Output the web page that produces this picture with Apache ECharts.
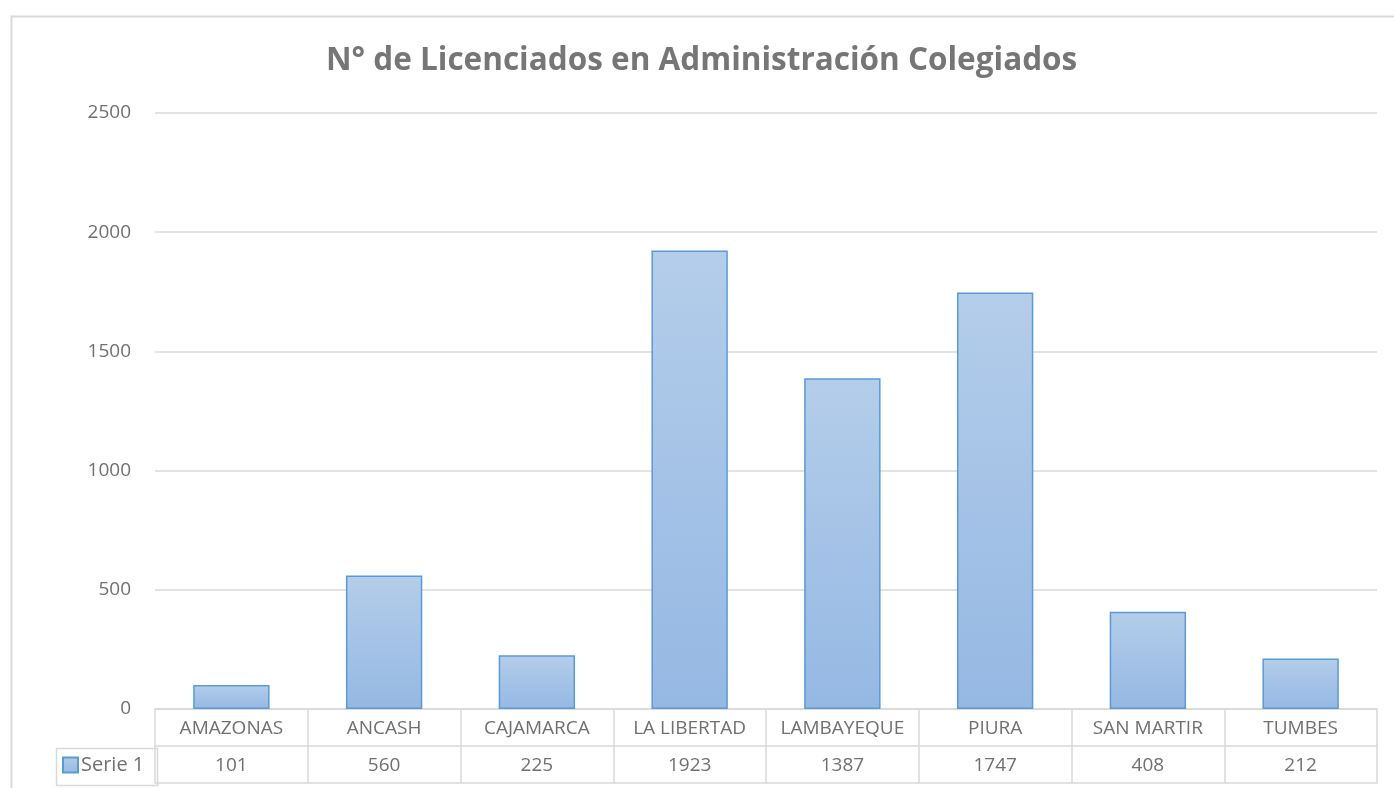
<!DOCTYPE html>
<html><head><meta charset="utf-8">
<script src="https://cdn.jsdelivr.net/npm/echarts@6/dist/echarts.min.js"></script>
<style>html,body{margin:0;padding:0;background:#fff}#c{width:1394px;height:788px}</style>
</head><body><div id="c"></div>
<script>
const titleText = 'N° de Licenciados en Administración Colegiados';
const seriesName = 'Serie 1';
const categories = ['AMAZONAS','ANCASH','CAJAMARCA','LA LIBERTAD','LAMBAYEQUE','PIURA','SAN MARTIR','TUMBES'];
const values = [101, 560, 225, 1923, 1387, 1747, 408, 212];
const yTicks = [0, 500, 1000, 1500, 2000, 2500];

const FONT = 'Open Sans';
const TXT = '#707070';
const LINE = '#d9d9d9';
const FS = 19;
const barFill = new echarts.graphic.LinearGradient(0,0,0,1,[{offset:0,color:'#b4cdea'},{offset:1,color:'#95b8e3'}]);

const chart = echarts.init(document.getElementById('c'));
chart.setOption({
  animation:false,
  textStyle:{fontFamily:FONT},
  title:{text:titleText,left:326,top:40,padding:[5,0,5,0],
    textStyle:{fontFamily:FONT,fontSize:31.5,fontWeight:'bold',color:'#767676'}},
  legend:{show:true,left:57,top:750,itemWidth:15,itemHeight:15,itemGap:4,icon:'rect',
    textStyle:{fontFamily:FONT,fontSize:20,color:TXT,padding:[2,0,0,-2]},data:[seriesName]},
  grid:{left:155,right:17,top:113,bottom:79,containLabel:false},
  yAxis:{type:'value',min:yTicks[0],max:yTicks[yTicks.length-1],interval:500,
    axisLine:{show:false},axisTick:{show:false},
    axisLabel:{color:TXT,fontSize:FS,fontFamily:FONT,margin:24,formatter:v=>String(v)},
    splitLine:{lineStyle:{color:LINE,width:1.5}}},
  xAxis:[
    {type:'category',data:categories,position:'bottom',
     axisLine:{show:true,lineStyle:{color:LINE,width:1.5}},
     axisTick:{show:true,length:74,alignWithLabel:false,lineStyle:{color:LINE,width:1.5}},
     axisLabel:{color:TXT,fontSize:FS,fontFamily:FONT,margin:10,interval:0}},
    {type:'category',data:values.map(String),position:'bottom',offset:37,
     axisLine:{show:true,lineStyle:{color:LINE,width:1.5}},axisTick:{show:false},
     axisLabel:{color:TXT,fontSize:FS,fontFamily:FONT,margin:10,interval:0}},
    {type:'category',data:categories,position:'bottom',offset:74,
     axisLine:{show:true,lineStyle:{color:LINE,width:1.5}},axisTick:{show:false},axisLabel:{show:false}}
  ],
  series:[{name:seriesName,type:'bar',data:values,barWidth:'50%',xAxisIndex:0,
    itemStyle:{color:barFill,borderColor:'#5b9bd5',borderWidth:1.5}}],
  graphic:[
    {type:'rect',left:9,top:14,shape:{width:1400,height:800},style:{fill:'none',stroke:LINE,lineWidth:2},silent:true,z:-1},
    {type:'rect',left:54,top:746,shape:{width:101,height:37},style:{fill:'none',stroke:LINE,lineWidth:1.5},silent:true}
  ]
});
</script></body></html>
